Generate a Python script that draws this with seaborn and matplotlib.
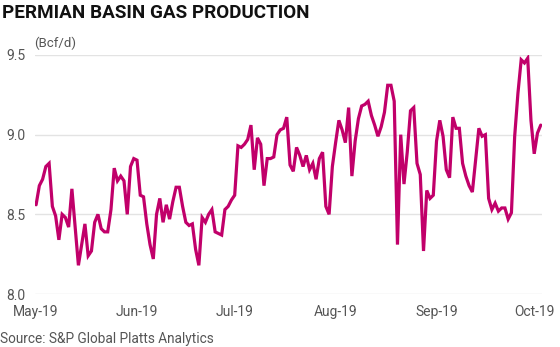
import matplotlib
matplotlib.use("Agg")
import matplotlib.pyplot as plt
import matplotlib.dates as mdates
import pandas as pd
import seaborn as sns

# Daily Permian Basin gas output, Bcf/d, starting 1 May 2019
start_date = "2019-05-01"
production = [
    8.56, 8.68, 8.72, 8.80, 8.82, 8.55, 8.49, 8.34, 8.50, 8.48,
    8.42, 8.66, 8.42, 8.18, 8.31, 8.44, 8.24, 8.27, 8.45, 8.50,
    8.41, 8.39, 8.39, 8.53, 8.79, 8.71, 8.74, 8.71, 8.50, 8.80,
    8.85, 8.84, 8.62, 8.61, 8.44, 8.31, 8.22, 8.50, 8.60, 8.45,
    8.56, 8.47, 8.58, 8.67, 8.67, 8.55, 8.45, 8.43, 8.44, 8.28,
    8.18, 8.48, 8.45, 8.50, 8.53, 8.39, 8.38, 8.37, 8.53, 8.55,
    8.59, 8.62, 8.93, 8.92, 8.94, 8.97, 9.06, 8.78, 8.98, 8.94,
    8.68, 8.85, 8.85, 8.86, 9.00, 9.03, 9.04, 9.11, 8.81, 8.77,
    8.92, 8.87, 8.80, 8.87, 8.78, 8.82, 8.72, 8.85, 8.89, 8.55,
    8.50, 8.80, 8.95, 9.09, 9.03, 8.95, 9.17, 8.74, 8.96, 9.10,
    9.18, 9.19, 9.21, 9.12, 9.06, 8.99, 9.05, 9.14, 9.31, 9.31,
    9.21, 8.31, 9.00, 8.69, 8.89, 9.15, 9.17, 8.82, 8.75, 8.27,
    8.65, 8.60, 8.62, 8.96, 9.09, 8.99, 8.78, 8.73, 9.11, 9.04,
    9.04, 8.82, 8.74, 8.68, 8.64, 8.84, 9.04, 8.99, 9.00, 8.60,
    8.53, 8.57, 8.52, 8.54, 8.54, 8.47, 8.51, 8.99, 9.26, 9.47,
    9.45, 9.48, 9.09, 8.88, 9.01, 9.06,
]
y_ticks = [8.0, 8.5, 9.0, 9.5]
title = "PERMIAN BASIN GAS PRODUCTION"
unit_label = "(Bcf/d)"
source_note = "Source: S&P Global Platts Analytics"

dates = pd.date_range(start_date, periods=len(production), freq="D")
df = pd.DataFrame({"date": dates, "production": production})

sns.set_theme(style="white")
plt.rcParams["font.family"] = ["Roboto", "DejaVu Sans"]

line_color = "#C1006A"
text_gray = "#555555"

fig = plt.figure(figsize=(5.6, 3.47), dpi=100)
ax = fig.add_axes([0.0625, 0.1527, 0.9055, 0.6888])

sns.lineplot(data=df, x="date", y="production", ax=ax, color=line_color,
             linewidth=2.3, solid_joinstyle="miter")

ax.set_ylim(y_ticks[0], y_ticks[-1])
ax.set_yticks(y_ticks)
ax.set_yticklabels([f"{t:.1f}" for t in y_ticks])
ax.set_xlim(dates[0] - pd.Timedelta(hours=8), dates[-1] + pd.Timedelta(hours=10))
ax.xaxis.set_major_locator(mdates.MonthLocator(bymonthday=1))
ax.xaxis.set_major_formatter(mdates.DateFormatter("%b-%y"))

ax.set_xlabel("")
ax.set_ylabel("")
for s in ax.spines.values():
    s.set_visible(False)
ax.grid(axis="y", color="#E3E3E3", linewidth=1.0)
ax.grid(axis="x", visible=False)
ax.set_axisbelow(True)
ax.tick_params(axis="both", length=0, labelsize=10, labelcolor=text_gray)
ax.tick_params(axis="x", pad=8)
ax.tick_params(axis="y", pad=7)

fig.text(0.003, 0.988, title, ha="left", va="top", fontsize=13.6,
         fontweight="bold", color="#111111", family=["Roboto", "DejaVu Sans"])
fig.text(34 / 560, 1 - 37 / 347, unit_label, ha="left", va="top",
         fontsize=9.5, color=text_gray)
fig.text(0.0, 1 - 346 / 347, source_note, ha="left", va="bottom",
         fontsize=9.8, color=text_gray)

fig.savefig("out.png", dpi=100)
